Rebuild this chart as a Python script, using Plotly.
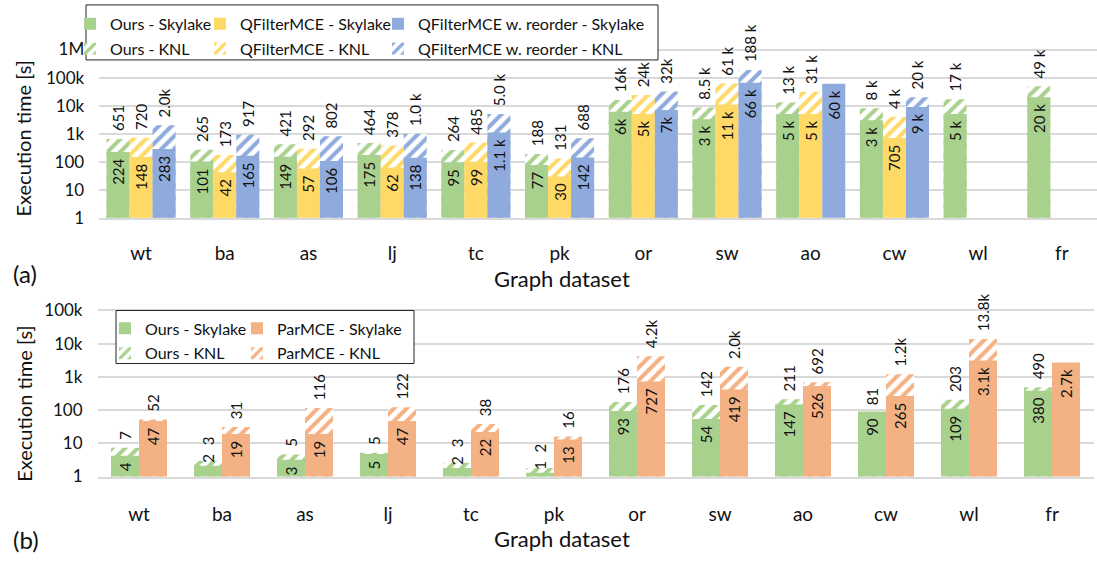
import plotly.graph_objects as go

W, H = 1097, 572
FONT = "Lato"

# ---------------- data (a) ----------------
cats = ["wt", "ba", "as", "lj", "tc", "pk", "or", "sw", "ao", "cw", "wl", "fr"]

ours_sky_a = [224, 101, 149, 175, 95, 77, 6000, 3300, 5000, 3000, 5000, 20000]
ours_knl_a = [651, 265, 421, 464, 264, 188, 16000, 8500, 13000, 8000, 17000, 49000]
qf_sky_a = [148, 42, 57, 62, 99, 30, 5000, 11000, 5000, 705, None, None]
qf_knl_a = [720, 173, 292, 378, 485, 131, 24000, 61000, 31000, 4000, None, None]
qfr_sky_a = [283, 165, 106, 138, 1100, 142, 7000, 66000, 60000, 9000, None, None]
qfr_knl_a = [2000, 917, 802, 1000, 5000, 688, 32000, 188000, None, 20000, None, None]

ours_sky_a_txt = ["224", "101", "149", "175", "95", "77", "6k", "3 k", "5 k", "3 k", "5 k", "20 k"]
ours_knl_a_txt = ["651", "265", "421", "464", "264", "188", "16k", "8.5 k", "13 k", "8 k", "17 k", "49 k"]
qf_sky_a_txt = ["148", "42", "57", "62", "99", "30", "5k", "11 k", "5 k", "705", "", ""]
qf_knl_a_txt = ["720", "173", "292", "378", "485", "131", "24k", "61 k", "31 k", "4 k", "", ""]
qfr_sky_a_txt = ["283", "165", "106", "138", "1.1 k", "142", "7k", "66 k", "60 k", "9 k", "", ""]
qfr_knl_a_txt = ["2.0k", "917", "802", "1.0 k", "5.0 k", "688", "32k", "188 k", "", "20 k", "", ""]

# ---------------- data (b) ----------------
ours_sky_b = [4.2, 2.1, 3.2, 4.8, 1.8, 1.3, 93, 54, 147, 90, 109, 380]
ours_knl_b = [7.4, 3.0, 4.6, 5.2, 2.6, 1.8, 176, 142, 211, 81, 203, 490]
par_sky_b = [47, 19, 19, 47, 22, 13, 727, 419, 526, 265, 3100, 2700]
par_knl_b = [52, 31, 116, 122, 38, 16, 4200, 2000, 692, 1200, 13800, None]

ours_sky_b_txt = ["4", "2", "3", "5", "2", "1", "93", "54", "147", "90", "109", "380"]
ours_knl_b_txt = ["7", "3", "5", "5", "3", "2", "176", "142", "211", "81", "203", "490"]
par_sky_b_txt = ["47", "19", "19", "47", "22", "13", "727", "419", "526", "265", "3.1k", "2.7k"]
par_knl_b_txt = ["52", "31", "116", "122", "38", "16", "4.2k", "2.0k", "692", "1.2k", "13.8k", ""]

ytick_vals_a = [1, 10, 100, 1000, 10000, 100000, 1000000]
ytick_text_a = ["1", "10", "100", "1k", "10k", "100k", "1M"]
ytick_vals_b = [1, 10, 100, 1000, 10000, 100000]
ytick_text_b = ["1", "10", "100", "1k", "10k", "100k"]

GREEN = "#A9D18E"
YELLOW = "#FFD966"
BLUE = "#8FAADC"
ORANGE = "#F4B183"
LABEL_SIZE = 15
TXT = "#111"
NB = "\u00a0"
HAIR = "\u200a"
SMALL = 2.5  # Skylake bars below this are too short to hold their label


def px(x):
    return x / W


def py(y):
    return 1 - y / H


def knl_bar(name, y, txt, sky, color, offset, width, xa, ya, legend, rank):
    # leave extra room when the paired Skylake label sits above its bar
    tmpl = [(NB * 3 + HAIR if (s is not None and s < SMALL) else NB + HAIR) + "%{text}" for s in sky]
    return go.Bar(
        name=name, x=cats, y=y, text=txt, xaxis=xa, yaxis=ya,
        offset=offset, width=width,
        marker=dict(color=color, line=dict(width=0),
                    pattern=dict(shape="/", fgcolor=color, bgcolor="white",
                                 size=9, solidity=0.45, fillmode="replace")),
        texttemplate=tmpl,
        textposition="outside", textangle=-90, constraintext="none",
        outsidetextfont=dict(family=FONT, size=LABEL_SIZE, color=TXT),
        legend=legend, legendrank=rank, legendgroup=name,
        hoverinfo="x+y+name",
    )


def sky_bar(name, y, txt, color, offset, width, xa, ya, legend, rank):
    pos = ["outside" if (v is not None and v < SMALL) else "inside" for v in y]
    return go.Bar(
        name=name, x=cats, y=y, text=txt, xaxis=xa, yaxis=ya,
        offset=offset, width=width,
        marker=dict(color=color, line=dict(width=0)),
        texttemplate="%{text}" + NB,
        textposition=pos, insidetextanchor="end", textangle=-90,
        constraintext="none",
        insidetextfont=dict(family=FONT, size=LABEL_SIZE, color=TXT),
        outsidetextfont=dict(family=FONT, size=LABEL_SIZE, color=TXT),
        legend=legend, legendrank=rank, legendgroup=name,
        hoverinfo="x+y+name",
    )


wa = 0.275
offs_a = [-1.5 * wa, -0.5 * wa, 0.5 * wa]
wb = 0.337
offs_b = [-wb, 0.0]

fig = go.Figure()
# (a) KNL behind, Skylake in front
fig.add_trace(knl_bar("Ours - KNL", ours_knl_a, ours_knl_a_txt, ours_sky_a, GREEN, offs_a[0], wa, "x", "y", "legend", 2))
fig.add_trace(knl_bar("QFilterMCE - KNL", qf_knl_a, qf_knl_a_txt, qf_sky_a, YELLOW, offs_a[1], wa, "x", "y", "legend2", 2))
fig.add_trace(knl_bar("QFilterMCE w. reorder - KNL", qfr_knl_a, qfr_knl_a_txt, qfr_sky_a, BLUE, offs_a[2], wa, "x", "y", "legend3", 2))
fig.add_trace(sky_bar("Ours - Skylake", ours_sky_a, ours_sky_a_txt, GREEN, offs_a[0], wa, "x", "y", "legend", 1))
fig.add_trace(sky_bar("QFilterMCE - Skylake", qf_sky_a, qf_sky_a_txt, YELLOW, offs_a[1], wa, "x", "y", "legend2", 1))
fig.add_trace(sky_bar("QFilterMCE w. reorder - Skylake", qfr_sky_a, qfr_sky_a_txt, BLUE, offs_a[2], wa, "x", "y", "legend3", 1))
# (b)
fig.add_trace(knl_bar("Ours - KNL", ours_knl_b, ours_knl_b_txt, ours_sky_b, GREEN, offs_b[0], wb, "x2", "y2", "legend4", 2))
fig.add_trace(knl_bar("ParMCE - KNL", par_knl_b, par_knl_b_txt, par_sky_b, ORANGE, offs_b[1], wb, "x2", "y2", "legend5", 2))
fig.add_trace(sky_bar("Ours - Skylake", ours_sky_b, ours_sky_b_txt, GREEN, offs_b[0], wb, "x2", "y2", "legend4", 1))
fig.add_trace(sky_bar("ParMCE - Skylake", par_sky_b, par_sky_b_txt, ORANGE, offs_b[1], wb, "x2", "y2", "legend5", 1))

GRID = "#D9D9D9"
common_x = dict(type="category", showgrid=False, showline=True, linecolor=GRID, linewidth=1.6,
                ticks="", tickfont=dict(family=FONT, size=19, color=TXT), fixedrange=True)
common_y = dict(type="log", showgrid=True, gridcolor=GRID, gridwidth=1.6, zeroline=False,
                showline=False, ticks="", tickfont=dict(family=FONT, size=17, color=TXT),
                ticklabelstandoff=14, fixedrange=True)

fig.update_layout(
    width=W, height=H, margin=dict(l=0, r=0, t=0, b=0),
    paper_bgcolor="white", plot_bgcolor="white",
    barmode="overlay",
    font=dict(family=FONT, color=TXT),
    xaxis=dict(common_x, domain=[px(99.2), 1.0], range=[-0.5, 11.42], anchor="y",
               ticklabelstandoff=18),
    yaxis=dict(common_y, domain=[py(221.7), py(7.6)], range=[0, 7.5], anchor="x",
               tickvals=ytick_vals_a, ticktext=ytick_text_a),
    xaxis2=dict(common_x, domain=[px(97.5), px(1093.5)], range=[-0.5, 11.5], anchor="y2",
                ticklabelstandoff=20),
    yaxis2=dict(common_y, domain=[py(485), py(289.9)], range=[0, 5.77], anchor="x2",
                tickvals=ytick_vals_b, ticktext=ytick_text_b),
    showlegend=True,
)

leg_common = dict(orientation="v", xanchor="left", yanchor="top", bgcolor="rgba(0,0,0,0)",
                  borderwidth=0, font=dict(family=FONT, size=16, color=TXT),
                  traceorder="grouped", tracegroupgap=1, itemclick=False, itemdoubleclick=False)
fig.update_layout(
    legend=dict(leg_common, x=px(70), y=py(7)),
    legend2=dict(leg_common, x=px(200), y=py(7)),
    legend3=dict(leg_common, x=px(378), y=py(7)),
    legend4=dict(leg_common, x=px(105), y=py(317)),
    legend5=dict(leg_common, x=px(237), y=py(317)),
)

# legend boxes
fig.add_shape(type="rect", xref="paper", yref="paper", x0=px(86), x1=px(658), y0=py(61), y1=py(5),
              line=dict(color="#222", width=1), fillcolor="white", layer="above")
fig.add_shape(type="rect", xref="paper", yref="paper", x0=px(116), x1=px(414), y0=py(370), y1=py(316),
              line=dict(color="#222", width=1), fillcolor="white", layer="above")

ytitle_font = dict(family=FONT, size=20, color=TXT)
xtitle_font = dict(family=FONT, size=22, color=TXT)
tag_font = dict(family=FONT, size=24, color=TXT)
fig.add_annotation(text="Execution time [s]", xref="paper", yref="paper", x=px(23), y=py(141),
                   textangle=-90, showarrow=False, font=ytitle_font, xanchor="center", yanchor="middle")
fig.add_annotation(text="Execution time [s]", xref="paper", yref="paper", x=px(24), y=py(411),
                   textangle=-90, showarrow=False, font=ytitle_font, xanchor="center", yanchor="middle")
fig.add_annotation(text="Graph dataset", xref="paper", yref="paper", x=px(562), y=py(283),
                   showarrow=False, font=xtitle_font, xanchor="center", yanchor="middle")
fig.add_annotation(text="Graph dataset", xref="paper", yref="paper", x=px(562), y=py(548),
                   showarrow=False, font=xtitle_font, xanchor="center", yanchor="middle")
fig.add_annotation(text="(a)", xref="paper", yref="paper", x=px(11), y=py(278),
                   showarrow=False, font=tag_font, xanchor="left", yanchor="middle")
fig.add_annotation(text="(b)", xref="paper", yref="paper", x=px(11), y=py(549),
                   showarrow=False, font=tag_font, xanchor="left", yanchor="middle")

fig.write_html("out.html")
